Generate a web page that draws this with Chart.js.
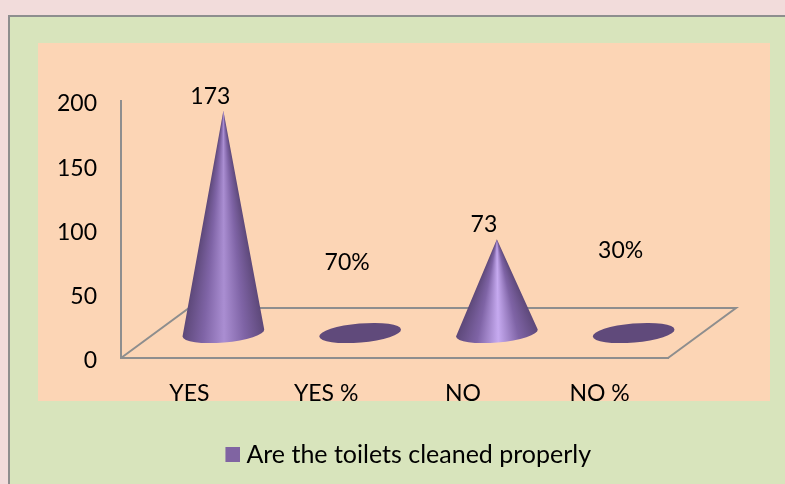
<!DOCTYPE html>
<html>
<head>
<meta charset="utf-8">
<title>Are the toilets cleaned properly</title>
<script src="https://cdn.jsdelivr.net/npm/chart.js@4/dist/chart.umd.min.js"></script>
<style>
  html, body { margin: 0; padding: 0; background: #f2dcdb; overflow: hidden; }
  canvas { display: block; }
</style>
</head>
<body>
<canvas id="toiletsChart" width="785" height="484"></canvas>
<script>
const categories = ['YES', 'YES %', 'NO', 'NO %'];
const seriesName = 'Are the toilets cleaned properly';
const seriesValues = [173, 0.7, 73, 0.3];
const valueLabels = ['173', '70%', '73', '30%'];
const yTickValues = [0, 50, 100, 150, 200];

const fontFamily = 'Lato, "Open Sans", sans-serif';
const fontSize = 23;
const legendFontSize = 25;
const axisColor = '#8e8e8e';
const depthX = 68;
const depthY = 50;
const labelLift = [14, 70, 15, 82];
const coneHighlights = ['#aa8ed2', '#a98dd0', '#c6aaf0', '#a98dd0'];

function legendSquare() {
    const c = document.createElement('canvas');
    c.width = 28;
    c.height = 15;
    const g = c.getContext('2d');
    g.fillStyle = '#8064a2';
    g.fillRect(13, 0, 15, 15);
    return c;
}

const panelPlugin = {
    id: 'panel',
    afterLayout(chart) {
        chart.legend.left += 71;
        chart.legend.right += 71;
        // Lato sits high on its middle baseline, push the y labels down a bit
        chart.scales.y.getLabelItems(chart.chartArea).forEach(item => {
            item.options.translation[1] += 3;
        });
    },
    beforeDraw(chart) {
        const ctx = chart.ctx;
        ctx.save();
        ctx.fillStyle = '#d8e4bc';
        ctx.fillRect(8, 15, 777, 469);
        ctx.strokeStyle = axisColor;
        ctx.lineWidth = 2;
        ctx.beginPath();
        ctx.moveTo(9, 484);
        ctx.lineTo(9, 16);
        ctx.lineTo(785, 16);
        ctx.stroke();
        ctx.fillStyle = '#fcd5b5';
        ctx.fillRect(38, 43, 732, 358);
        ctx.restore();
    },
    beforeDatasetsDraw(chart) {
        // floor of the fake 3d box, hung on the two axes
        const ctx = chart.ctx;
        const x0 = chart.scales.x.left;
        const x1 = chart.scales.x.right;
        const y0 = chart.scales.y.getPixelForValue(0);
        ctx.save();
        ctx.strokeStyle = axisColor;
        ctx.lineWidth = 2;
        ctx.beginPath();
        ctx.moveTo(x0, y0);
        ctx.lineTo(x0 + depthX, y0 - depthY);
        ctx.lineTo(x1 + depthX, y0 - depthY);
        ctx.lineTo(x1, y0);
        ctx.stroke();
        ctx.restore();
    },
    afterDatasetsDraw(chart) {
        const ctx = chart.ctx;
        const meta = chart.getDatasetMeta(0);
        const tilt = -5 * Math.PI / 180;
        meta.data.forEach((bar, i) => {
            const cx = bar.x + depthX / 2;
            const baseY = bar.base - depthY / 2;
            const tipY = bar.y - depthY / 2;
            const rx = bar.width / 2;
            const ry = 9.5;
            const lx = cx - rx * Math.cos(tilt);
            const ly = baseY - rx * Math.sin(tilt);
            const rxp = cx + rx * Math.cos(tilt);
            const ryp = baseY + rx * Math.sin(tilt);

            ctx.save();
            ctx.beginPath();
            if (baseY - tipY < 3) {
                ctx.ellipse(cx, baseY, rx, ry, tilt, 0, Math.PI * 2);
                ctx.fillStyle = '#604a7b';
            } else {
                ctx.moveTo(cx, tipY);
                ctx.lineTo(lx, ly);
                ctx.ellipse(cx, baseY, rx, ry, tilt, Math.PI, 0, true);
                ctx.lineTo(rxp, ryp);
                ctx.closePath();
                // shading fans out from the tip, so use a conic gradient
                const start = Math.atan2(ryp - tipY, rxp - cx);
                const end = Math.atan2(ly - tipY, lx - cx);
                const span = (end - start) / (Math.PI * 2);
                const grad = ctx.createConicGradient(start, cx, tipY);
                grad.addColorStop(0, '#5d4879');
                grad.addColorStop(span * 0.25, '#7f64a6');
                grad.addColorStop(span * 0.5, coneHighlights[i]);
                grad.addColorStop(span * 0.75, '#7f64a6');
                grad.addColorStop(span, '#5d4879');
                grad.addColorStop(1, '#5d4879');
                ctx.fillStyle = grad;
            }
            ctx.fill();
            ctx.restore();

            ctx.save();
            ctx.fillStyle = '#000';
            ctx.font = fontSize + 'px ' + fontFamily;
            ctx.textAlign = 'center';
            ctx.textBaseline = 'middle';
            ctx.fillText(valueLabels[i], cx - 13, tipY - labelLift[i]);
            ctx.restore();
        });
    }
};

const ctx = document.getElementById('toiletsChart').getContext('2d');
const toiletsChart = new Chart(ctx, {
    type: 'bar',
    data: {
        labels: categories,
        datasets: [{
            label: seriesName,
            data: seriesValues,
            backgroundColor: 'rgba(0, 0, 0, 0)',
            barPercentage: 0.6,
            categoryPercentage: 1
        }]
    },
    plugins: [panelPlugin],
    options: {
        responsive: false,
        animation: false,
        layout: {
            padding: { top: 101, right: 117, bottom: 7, left: 0 }
        },
        scales: {
            x: {
                afterFit(scale) { scale.height = 74; },
                grid: { display: false, drawTicks: false },
                border: { color: axisColor, width: 2 },
                ticks: {
                    color: '#000',
                    padding: 22,
                    maxRotation: 0,
                    font: { family: fontFamily, size: fontSize }
                }
            },
            y: {
                min: 0,
                max: 200,
                afterFit(scale) { scale.width = 121; },
                afterBuildTicks(scale) { scale.ticks = yTickValues.map(v => ({ value: v })); },
                grid: { display: false, drawTicks: false },
                border: { color: axisColor, width: 2 },
                ticks: {
                    color: '#000',
                    padding: 24,
                    font: { family: fontFamily, size: fontSize }
                }
            }
        },
        plugins: {
            tooltip: { enabled: false },
            legend: {
                position: 'bottom',
                labels: {
                    color: '#000',
                    font: { family: fontFamily, size: legendFontSize },
                    usePointStyle: true,
                    pointStyleWidth: 15,
                    padding: 10,
                    generateLabels(chart) {
                        return [{
                            text: seriesName,
                            fontColor: '#000',
                            pointStyle: legendSquare(),
                            datasetIndex: 0
                        }];
                    }
                }
            }
        }
    }
});
</script>
</body>
</html>
